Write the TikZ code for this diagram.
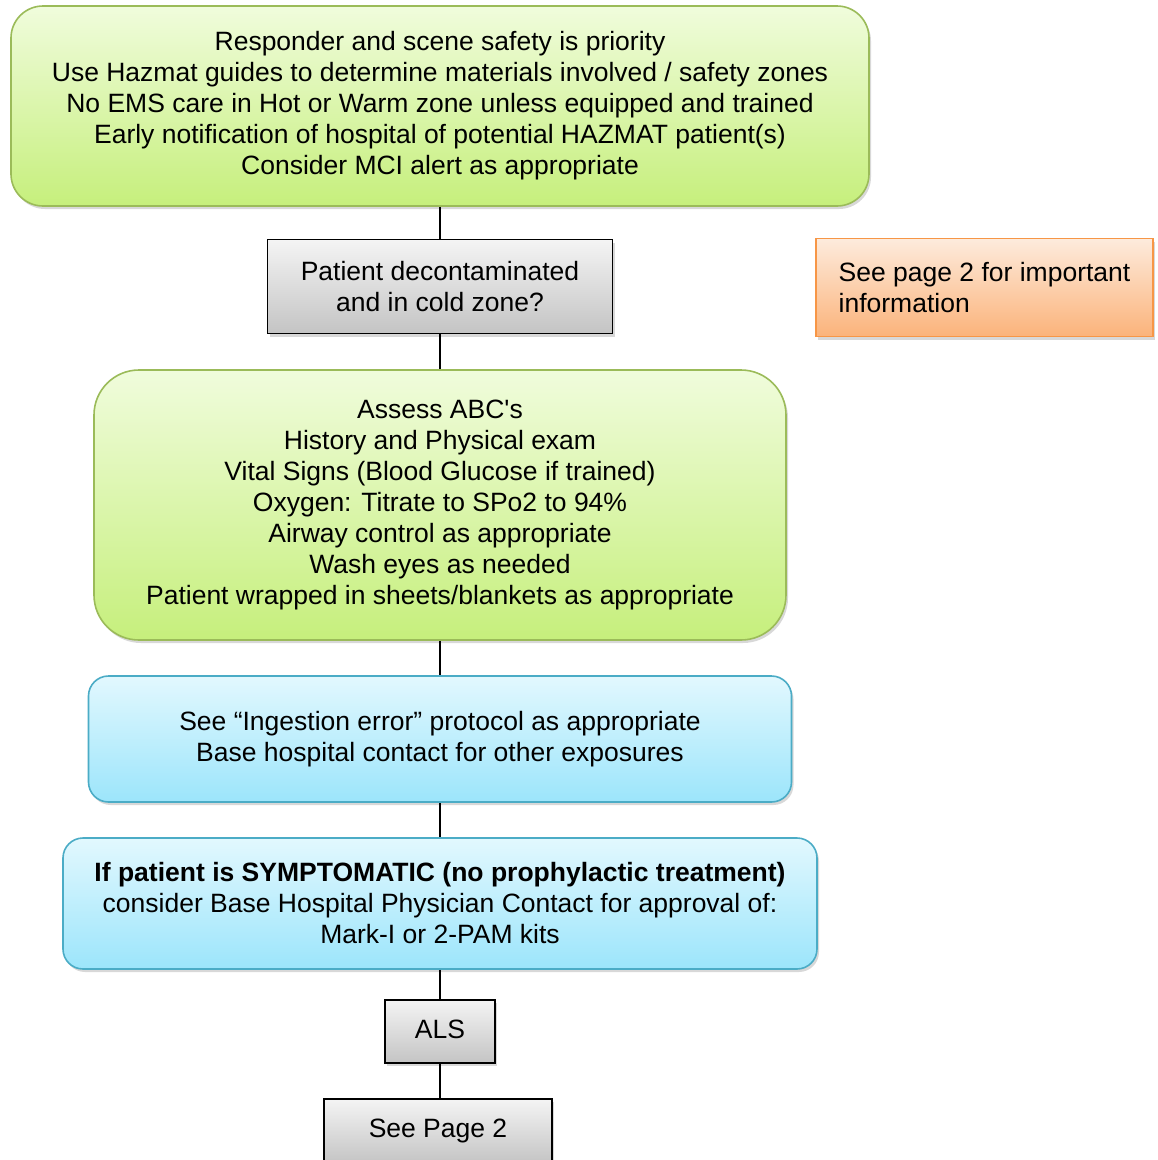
\documentclass[tikz,border=0pt]{standalone}
\usepackage{fontspec}
\setmainfont{Liberation Sans}
\newfontfamily\plainquote{Liberation Sans}[Ligatures=ResetAll]
\usetikzlibrary{shadows}
\definecolor{grtop}{HTML}{F0FCDC}
\definecolor{grbot}{HTML}{C6EF7C}
\definecolor{grborder}{HTML}{9BBB59}
\definecolor{gytop}{HTML}{F4F4F4}
\definecolor{gybot}{HTML}{C4C4C4}
\definecolor{ortop}{HTML}{FDEBDD}
\definecolor{orbot}{HTML}{FBB37A}
\definecolor{orborder}{HTML}{F79646}
\definecolor{bltop}{HTML}{E2F8FE}
\definecolor{blbot}{HTML}{9CE5FB}
\definecolor{blborder}{HTML}{4BACC6}
\begin{document}
\begin{tikzpicture}[x=1pt,y=1pt]
\tikzset{
  box/.style={align=center, font=\fontsize{26.5}{31}\selectfont, inner sep=0pt,
    drop shadow={opacity=0.3, shadow xshift=2pt, shadow yshift=-3pt}},
  greenbox/.style={box, draw=grborder, line width=1.6pt, top color=grtop, bottom color=grbot},
  graybox/.style={box, draw=black, line width=1.3pt, top color=gytop, bottom color=gybot},
  orangebox/.style={box, align=left, draw=orborder, line width=1.6pt, top color=ortop, bottom color=orbot},
  bluebox/.style={box, rounded corners=20pt, draw=blborder, line width=1.6pt, top color=bltop, bottom color=blbot},
  link/.style={draw=black, line width=1.3pt}
}
\useasboundingbox (0,0) rectangle (1158,-1160);
\fill[white] (0,0) rectangle (1158,-1160);

\node[greenbox, rounded corners=32pt, minimum width=858, minimum height=200] (n1) at (440,-106)
 {Responder and scene safety is priority\\
  Use Hazmat guides to determine materials involved / safety zones\\
  No EMS care in Hot or Warm zone unless equipped and trained\\
  Early notification of hospital of potential HAZMAT patient(s)\\
  Consider MCI alert as appropriate};

\node[graybox, minimum width=345, minimum height=94] (n2) at (440,-286.5)
 {Patient decontaminated\\and in cold zone?};

\node[orangebox, minimum width=337, minimum height=98] (note) at (984.5,-287.5)
 {See page 2 for important\\information};

\node[greenbox, rounded corners=45pt, minimum width=692, minimum height=270] (n3) at (440,-505)
 {Assess ABC{\plainquote '}s\\
  History and Physical exam\\
  Vital Signs (Blood Glucose if trained)\\
  Oxygen: Titrate to SPo2 to 94\%\\
  Airway control as appropriate\\
  Wash eyes as needed\\
  Patient wrapped in sheets/blankets as appropriate};

\node[bluebox, minimum width=703, minimum height=126] (n4) at (440,-739)
 {See “Ingestion error” protocol as appropriate\\
  Base hospital contact for other exposures};

\node[bluebox, minimum width=754, minimum height=131] (n5) at (440,-903.5)
 {\textbf{If patient is SYMPTOMATIC (no prophylactic treatment)}\\
  consider Base Hospital Physician Contact for approval of:\\
  Mark-I or 2-PAM kits};

\node[graybox, minimum width=110, minimum height=63] (n6) at (440,-1031.5) {\raisebox{4pt}{ALS}};

\node[graybox, minimum width=228, minimum height=64] (n7) at (438,-1131) {\raisebox{-2pt}{See Page 2}};

\draw[link] (n1.south) -- (n2.north);
\draw[link] (n2.south) -- (n3.north);
\draw[link] (n3.south) -- (n4.north);
\draw[link] (n4.south) -- (n5.north);
\draw[link] (n5.south) -- (n6.north);
\draw[link] (n6.south) -- (n6.south |- n7.north);
\end{tikzpicture}
\end{document}
